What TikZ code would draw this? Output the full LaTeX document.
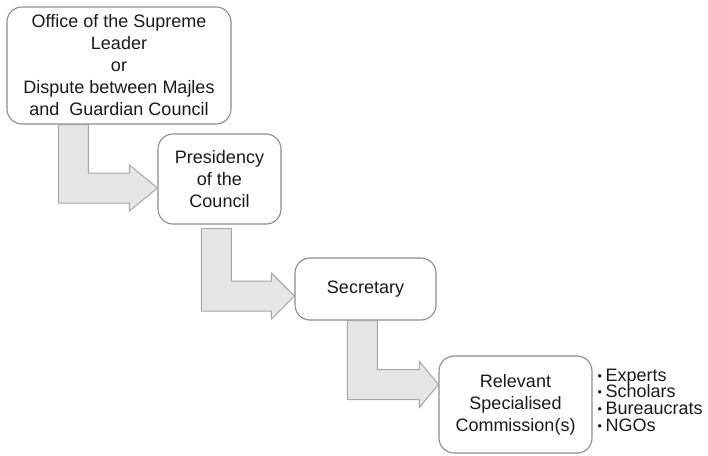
\documentclass[tikz,border=0pt]{standalone}
\usepackage{fontspec}
\setmainfont{Liberation Sans}
\usetikzlibrary{calc}
\definecolor{boxline}{HTML}{8C8C8C}
\definecolor{arrowfill}{HTML}{E6E6E6}
\definecolor{arrowline}{HTML}{A6A6A6}
\definecolor{ink}{HTML}{1A1A1A}
\tikzset{
	stepbox/.style={draw=boxline, line width=1.1pt, rounded corners=15pt, fill=white, align=center, inner sep=0pt, text=ink, font=\fontsize{18}{22}\selectfont},
	flowarrow/.style={draw=arrowline, line width=1pt, fill=arrowfill, line join=miter}
}
\def\blockarrow(#1)(#2)(#3){\draw[flowarrow] let \p1=(#1), \p2=(#2) in (\x1,\y1) -- (\x1+30pt,\y1) -- (\x1+30pt,\y2+15pt) -- (\x2-#3pt,\y2+15pt) -- (\x2-#3pt,\y2+23pt) -- (\x2,\y2) -- (\x2-#3pt,\y2-23pt) -- (\x2-#3pt,\y2-15pt) -- (\x1,\y2-15pt) -- cycle;}
\def\itm{\raisebox{0.05em}{\scalebox{0.7}{\textbullet}}\hspace{3.5pt}}
\def\tightlist{\fontsize{18}{16.7}\selectfont\lineskiplimit=-6pt\relax}

\begin{document}
\begin{tikzpicture}[x=1pt, y=-1pt]
			%%%%% START %%%%%
			\useasboundingbox (0,0) rectangle (708,455);
			
			\node[stepbox, minimum width=224pt, minimum height=117pt] (office) at (119,65.5) {Office of the Supreme\\Leader\\or\\Dispute between Majles\\and\ \ Guardian Council};
			\node[stepbox, minimum width=123pt, minimum height=90pt] (presidency) at (219.5,179) {Presidency\\of the\\Council};
			\node[stepbox, minimum width=141pt, minimum height=62pt] (secretary) at (365.5,289) {Secretary};
			\node[stepbox, minimum width=153pt, minimum height=97pt] (commission) at (515.5,404.5) {Relevant\\Specialised\\Commission(s)};
			
			\blockarrow($(office.south west)+(52,0)$)($(presidency.west)+(0,9)$)(28);
			\blockarrow($(presidency.south west)+(44,4)$)($(secretary.west)+(0,7)$)(23);
			\blockarrow($(secretary.south west)+(53,0)$)($(commission.west)+(0,-20)$)(19);
			
			\node[anchor=west, align=left, inner sep=0pt, text=ink, font=\tightlist] (members) at (597.5,400) {\itm Experts\\\itm Scholars\\\itm Bureaucrats\\\itm NGOs};
			
			%%%%% END %%%%%
\end{tikzpicture}
\end{document}
